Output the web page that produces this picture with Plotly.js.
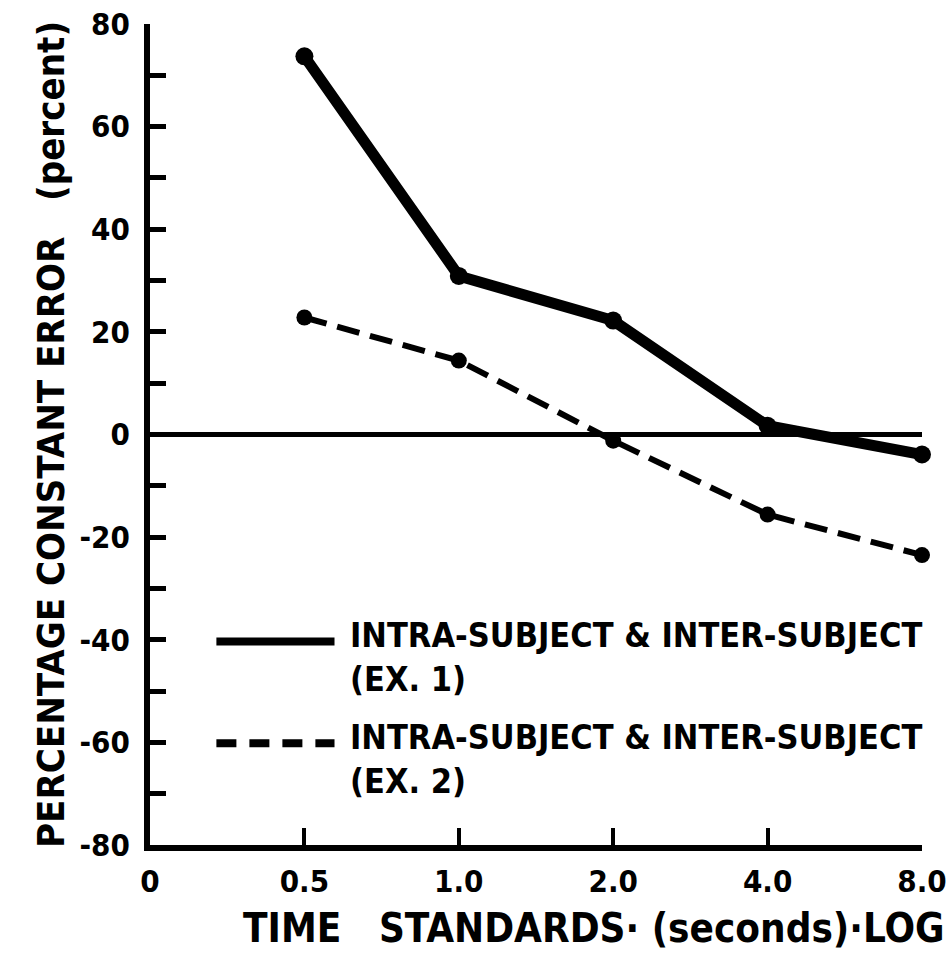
<!DOCTYPE html>
<html>
<head>
<meta charset="utf-8">
<script src="https://cdn.plot.ly/plotly-3.0.1.min.js"></script>
<style>
  html, body { margin: 0; padding: 0; background: #fff; }
  #chart { width: 951px; height: 963px; }
</style>
</head>
<body>
<div id="chart"></div>
<script>
// Time standards (seconds), evenly spaced on a log scale; "0" marks the origin
const timeCategories = ['0', '0.5', '1.0', '2.0', '4.0', '8.0'];
const standards = ['0.5', '1.0', '2.0', '4.0', '8.0'];

// Percentage constant error for each time standard
const errorEx1 = [73.7, 30.9, 22.2, 1.7, -3.9];
const errorEx2 = [22.8, 14.4, -1.2, -15.6, -23.5];

const seriesNames = ['INTRA-SUBJECT & INTER-SUBJECT<br>(EX. 1)',
                     'INTRA-SUBJECT & INTER-SUBJECT<br>(EX. 2)'];

// Y axis labels every 20, extra unlabeled ticks every 10 between them
const yTickVals = [-80, -60, -40, -20, 0, 20, 40, 60, 80];
const yTickText = ['-80', '-60', '-40', '-20', '0', '20', '40', '60', '80'];
const yMinorVals = [-70, -50, -30, -10, 10, 30, 50, 70];

const FONT = '"DejaVu Sans Condensed", "Liberation Sans Narrow", "DejaVu Sans", sans-serif';
const INK = '#000';

const traces = [
  {
    x: standards, y: errorEx1, name: seriesNames[0],
    type: 'scatter', mode: 'lines+markers',
    line: { color: INK, width: 11 },
    marker: { color: INK, size: 18 },
    cliponaxis: false
  },
  {
    x: standards, y: errorEx2, name: seriesNames[1],
    type: 'scatter', mode: 'lines+markers',
    line: { color: INK, width: 6, dash: '23px,11px' },
    marker: { color: INK, size: 16 },
    cliponaxis: false
  }
];

const layout = {
  width: 951, height: 963,
  margin: { l: 150, r: 29, t: 24, b: 118 },
  paper_bgcolor: '#fff', plot_bgcolor: '#fff',
  showlegend: false,
  font: { family: FONT, color: INK, weight: 'bold' },
  xaxis: {
    type: 'category',
    categoryorder: 'array', categoryarray: timeCategories,
    tickmode: 'array', tickvals: timeCategories, ticktext: timeCategories,
    range: [0, 5],
    showline: true, linecolor: INK, linewidth: 6,
    ticks: 'inside', ticklen: 17, tickwidth: 4, tickcolor: INK,
    ticklabelstandoff: 4,
    tickfont: { family: FONT, size: 31, color: INK, weight: 'bold' },
    showgrid: false, zeroline: false, fixedrange: true
  },
  yaxis: {
    range: [-80, 80],
    tickmode: 'array', tickvals: yTickVals, ticktext: yTickText,
    minor: { tickmode: 'array', tickvals: yMinorVals, ticks: 'inside',
             ticklen: 16, tickwidth: 5, tickcolor: INK, showgrid: false },
    showline: true, linecolor: INK, linewidth: 6,
    ticks: 'inside', ticklen: 16, tickwidth: 5, tickcolor: INK,
    ticklabelstandoff: 8,
    tickfont: { family: FONT, size: 31, color: INK, weight: 'bold' },
    showgrid: false,
    zeroline: true, zerolinecolor: INK, zerolinewidth: 5,
    title: {
      text: 'PERCENTAGE CONSTANT ERROR&nbsp;&nbsp;&nbsp;(percent)',
      font: { family: FONT, size: 38, color: INK, weight: 'bold' },
      standoff: 5
    },
    fixedrange: true
  },
  shapes: [
    // legend keys
    { type: 'line', xref: 'paper', yref: 'paper',
      x0: 0.086, x1: 0.239, y0: 0.248, y1: 0.248,
      line: { color: INK, width: 8 } },
    { type: 'line', xref: 'paper', yref: 'paper',
      x0: 0.086, x1: 0.239, y0: 0.124, y1: 0.124,
      line: { color: INK, width: 8, dash: '20px,13px' } }
  ],
  annotations: [
    { xref: 'paper', yref: 'paper', x: 0.256, y: 0.229,
      xanchor: 'left', yanchor: 'middle', align: 'left', showarrow: false,
      text: seriesNames[0],
      font: { family: FONT, size: 34, color: INK, weight: 'bold' } },
    { xref: 'paper', yref: 'paper', x: 0.256, y: 0.105,
      xanchor: 'left', yanchor: 'middle', align: 'left', showarrow: false,
      text: seriesNames[1],
      font: { family: FONT, size: 34, color: INK, weight: 'bold' } },
    // x axis title
    { xref: 'paper', yref: 'paper', x: 0.575, y: -0.101,
      xanchor: 'center', yanchor: 'middle', showarrow: false,
      text: 'TIME&nbsp;&nbsp;&nbsp;STANDARDS· (seconds)·LOG',
      font: { family: FONT, size: 40, color: INK, weight: 'bold' } }
  ]
};

Plotly.newPlot('chart', traces, layout, { staticPlot: true, displayModeBar: false });
</script>
</body>
</html>
